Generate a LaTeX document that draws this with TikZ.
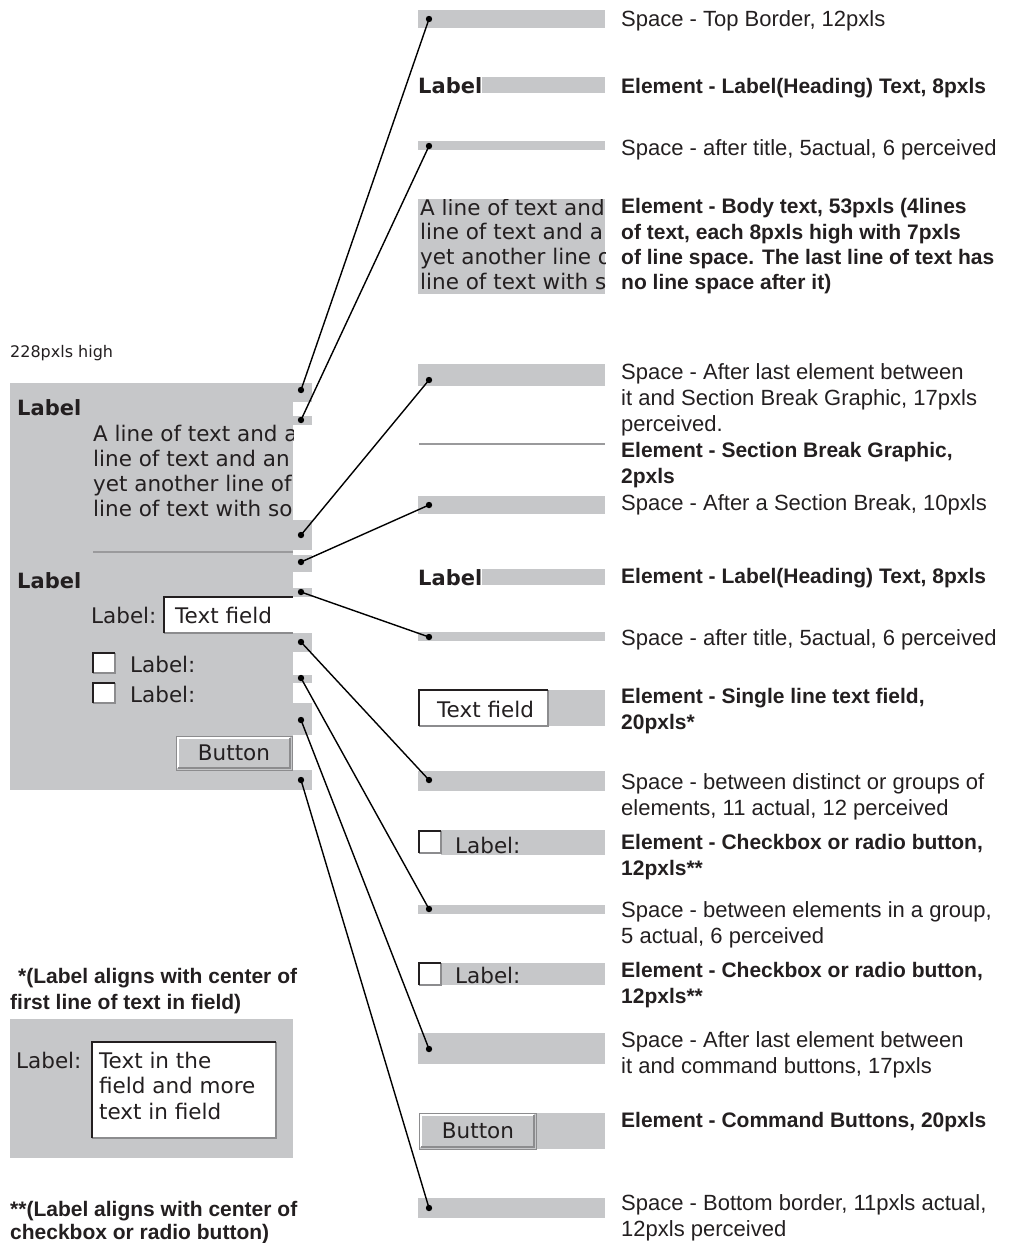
\documentclass[tikz,border=0pt]{standalone}
\usepackage{fontspec}
\setmainfont{Liberation Sans}
\newfontfamily\uifont{DejaVu Sans}
\definecolor{panel}{HTML}{C6C7C9}
\definecolor{ink}{HTML}{231F20}
\definecolor{edgegray}{HTML}{8C8C8E}
\definecolor{brkgray}{HTML}{9A9A9C}
\tikzset{
  desc/.style={anchor=north west, inner sep=0pt, align=left, text=ink, font=\fontsize{22}{26}\selectfont},
  descb/.style={desc, font=\fontsize{21}{26}\selectfont\bfseries},
  note/.style={descb, font=\fontsize{21}{23}\selectfont\bfseries},
  ui/.style={anchor=base west, inner sep=0pt, text=ink, font=\uifont\fontsize{21.5}{25}\selectfont},
  uib/.style={ui, font=\uifont\fontsize{21}{25}\selectfont\bfseries},
  link/.style={line width=1.4pt, black},
  brk/.style={brkgray, line width=2.5pt}
}
\newcommand\sunkbox[4]{%
  \fill[white] (#1,#2) rectangle (#3,#4);
  \draw[edgegray, line width=1.2pt] (#1,#4) -- (#3,#4) -- (#3,#2);
  \draw[ink, line width=2pt] (#1,#4) -- (#1,#2) -- (#3,#2);}
\newcommand\btnbox[4]{%
  \fill[panel] (#1,#2) rectangle (#3,#4);
  \draw[edgegray, line width=1pt] (#1,#2) rectangle (#3,#4);
  \draw[white, line width=1.5pt] (#1+2,#4-2) -- (#1+2,#2+2) -- (#3-2,#2+2);
  \draw[edgegray, line width=1.5pt] (#1+2,#4-2) -- (#3-2,#4-2) -- (#3-2,#2+2);}

\begin{document}
\begin{tikzpicture}[x=1pt,y=-1pt]
  \useasboundingbox (0,0) rectangle (1009,1243);

  \node[ui, font=\uifont\fontsize{16}{20}\selectfont] (height) at (10,357) {228pxls high};
  \fill[panel] (10,383) rectangle (293,790);
  \foreach \a/\b in {383/402,416/425,520/550,555/572,588/597,633/652,675/683,703/735,770/790}
    \fill[panel] (293,\a) rectangle (312,\b);
  \node[uib] (lhead1) at (17,415) {Label};
  \begin{scope}
    \clip (93,420) rectangle (293,525);
    \foreach \t [count=\i] in {A line of text and a,line of text and an,yet another line of,line of text with so}
      \node[ui] (lbody\i) at (93,{441+25.2*(\i-1)}) {\t};
  \end{scope}
  \draw[brk] (93,552) -- (293,552);
  \node[uib] (lhead2) at (17,588) {Label};
  \node[ui] (lflabel) at (91,623) {Label:};
  \fill[white] (164,597) rectangle (293,633);
  \draw[edgegray, line width=1.2pt] (164,633) -- (293,633);
  \draw[ink, line width=2pt] (164,633) -- (164,597) -- (293,597);
  \node[ui] (lfield) at (175,623) {Text field};
  \sunkbox{93}{653}{115}{673}
  \node[ui] (lcheck1) at (130,672) {Label:};
  \sunkbox{93}{683}{115}{703}
  \node[ui] (lcheck2) at (130,702) {Label:};
  \btnbox{176}{736}{292}{770}
  \node[ui, anchor=center] (lbutton) at (234,753) {Button};

  \node[note, font=\fontsize{21}{26}\selectfont\bfseries] (note1) at (10,965) {\strut\hspace*{8pt}*(Label aligns with center of\\first line of text in field)};
  \fill[panel] (10,1019) rectangle (293,1158);
  \node[ui] (nlabel) at (16,1068) {Label:};
  \sunkbox{92}{1042}{276}{1138}
  \foreach \t [count=\i] in {Text in the,field and more,text in field}
    \node[ui] (nfield\i) at (99,{1068+25.5*(\i-1)}) {\t};
  \node[note] (note2) at (10,1200) {\strut**(Label aligns with center of\\checkbox or radio button)};

  \fill[panel] (418,10) rectangle (605,28);
  \fill[panel] (482,77) rectangle (605,93);
  \node[uib] (rhead1) at (418,93) {Label};
  \fill[panel] (418,141) rectangle (605,150);
  \fill[panel] (418,199) rectangle (605,294);
  \begin{scope}
    \clip (418,199) rectangle (605,294);
    \foreach \t [count=\i] in {A line of text and,line of text and a,yet another line o,line of text with s}
      \node[ui] (rbody\i) at (420,{215+24.7*(\i-1)}) {\t};
  \end{scope}
  \fill[panel] (418,364) rectangle (605,386);
  \draw[brk] (419,444) -- (605,444);
  \fill[panel] (418,496) rectangle (605,514);
  \fill[panel] (482,569) rectangle (605,585);
  \node[uib] (rhead2) at (418,585) {Label};
  \fill[panel] (418,632) rectangle (605,641);
  \fill[panel] (548,690) rectangle (605,726);
  \sunkbox{419}{690}{548}{726}
  \node[ui] (rfield) at (437,717) {Text field};
  \fill[panel] (418,771) rectangle (605,791);
  \fill[panel] (441,830) rectangle (605,855);
  \sunkbox{419}{831}{441}{853}
  \node[ui] (rcheck1) at (455,853) {Label:};
  \fill[panel] (418,905) rectangle (605,914);
  \fill[panel] (441,963) rectangle (605,985);
  \sunkbox{419}{963}{441}{985}
  \node[ui] (rcheck2) at (455,983) {Label:};
  \fill[panel] (418,1033) rectangle (605,1064);
  \fill[panel] (536,1113) rectangle (605,1149);
  \btnbox{419}{1113}{536}{1149}
  \node[ui, anchor=center] (rbutton) at (478,1131) {Button};
  \fill[panel] (418,1198) rectangle (605,1218);

  \node[desc] (d1) at (621,8) {\strut Space - Top Border, 12pxls};
  \node[descb] (d2) at (621,75) {\strut Element - Label(Heading) Text, 8pxls};
  \node[desc] (d3) at (621,137) {\strut Space - after title, 5actual, 6 perceived};
  \node[descb, font=\fontsize{21}{25.3}\selectfont\bfseries] (d4) at (621,196) {\strut Element - Body text, 53pxls (4lines\\of text, each 8pxls high with 7pxls\\of line space. The last line of text has\\no line space after it)};
  \node[desc] (d5) at (621,361) {\strut Space - After last element between\\it and Section Break Graphic, 17pxls\\perceived.};
  \node[descb] (d6) at (621,439) {\strut Element - Section Break Graphic,\\2pxls};
  \node[desc] (d7) at (621,492) {\strut Space - After a Section Break, 10pxls};
  \node[descb] (d8) at (621,565) {\strut Element - Label(Heading) Text, 8pxls};
  \node[desc] (d9) at (621,627) {\strut Space - after title, 5actual, 6 perceived};
  \node[descb] (d10) at (621,685) {\strut Element - Single line text field,\\20pxls*};
  \node[desc] (d11) at (621,771) {\strut Space - between distinct or groups of\\elements, 11 actual, 12 perceived};
  \node[descb] (d12) at (621,831) {\strut Element - Checkbox or radio button,\\12pxls**};
  \node[desc] (d13) at (621,899) {\strut Space - between elements in a group,\\5 actual, 6 perceived};
  \node[descb] (d14) at (621,959) {\strut Element - Checkbox or radio button,\\12pxls**};
  \node[desc] (d15) at (621,1029) {\strut Space - After last element between\\it and command buttons, 17pxls};
  \node[descb] (d16) at (621,1109) {\strut Element - Command Buttons, 20pxls};
  \node[desc] (d17) at (621,1192) {\strut Space - Bottom border, 11pxls actual,\\12pxls perceived};

  \foreach \i/\a/\b in {1/390/19,2/420/146,3/535/380,4/562/505,5/592/637,6/642/780,7/678/909,8/720/1049,9/780/1208} {
    \coordinate (l\i) at (301,\a);
    \coordinate (r\i) at (429,\b);
    \fill (l\i) circle (3.2);
    \fill (r\i) circle (3.2);
  }
  \path[link]
  (l1) edge (r1)
  (l2) edge (r2)
  (l3) edge (r3)
  (l4) edge (r4)
  (l5) edge (r5)
  (l6) edge (r6)
  (l7) edge (r7)
  (l8) edge (r8)
  (l9) edge (r9)
  ;
\end{tikzpicture}
\end{document}
